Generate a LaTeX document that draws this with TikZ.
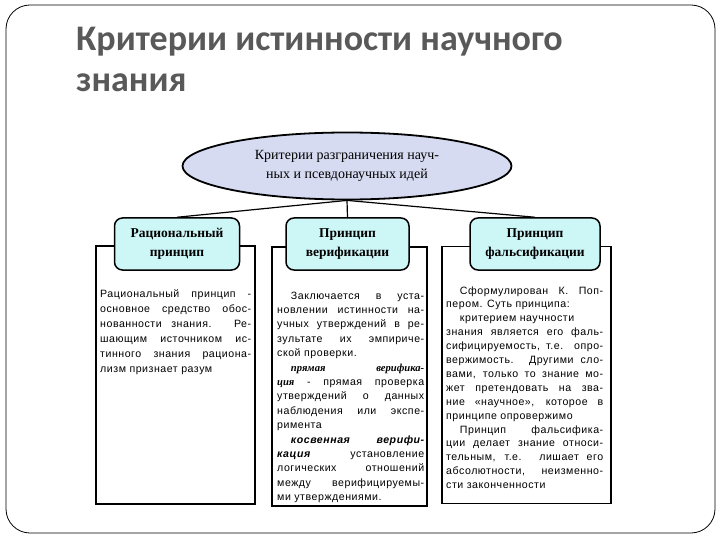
\documentclass[tikz,border=0pt]{standalone}
\usepackage{fontspec}
\setmainfont{Liberation Serif}
\setsansfont{Liberation Sans}
\newfontfamily\titlefont{Carlito}
\newfontfamily\bodyfont{Liberation Sans}[LetterSpace=5]
\usetikzlibrary{shapes.geometric}
\definecolor{titlegrey}{HTML}{595959}
\definecolor{ellfill}{HTML}{D6DBF1}
\definecolor{headfill}{HTML}{CDF6F7}
\tikzset{
  titletext/.style={anchor=base west, inner sep=0, text=titlegrey,
    font=\titlefont\bfseries\fontsize{36}{42}\selectfont},
  critell/.style={ellipse, draw, line width=1.8pt, fill=ellfill, inner sep=0,
    minimum width=329pt, minimum height=67pt, align=center,
    font=\rmfamily\fontsize{14}{19}\selectfont},
  headbox/.style={draw, line width=1.5pt, fill=headfill, rounded corners=8pt,
    minimum height=52pt, align=center, inner sep=0,
    font=\rmfamily\bfseries\fontsize{13.5}{19}\selectfont},
  bodybox/.style={draw, line width=1.8pt, inner sep=0},
  bodytext/.style={anchor=base west, inner sep=0, align=justify,
    font=\bodyfont\fontsize{10.6}{15}\selectfont},
  conn/.style={line width=1.2pt},
}
\newcommand{\ind}{\hspace*{1.3em}}
\newcommand{\bi}[1]{{\rmfamily\bfseries\itshape #1}}
\newcommand{\bsi}[1]{{\bodyfont\bfseries\itshape #1}}
\newcommand{\jst}{\rightskip=0pt\relax\parfillskip=0pt plus 1fil\relax\hfuzz=20pt\hbadness=10000\relax}
\begin{document}
\begin{tikzpicture}[x=1pt,y=-1pt]
\useasboundingbox (0,0) rectangle (720,540);
\draw[rounded corners=24pt, line width=0.8pt] (6,5) rectangle (715,533);

\node[titletext] (title1) at (76,51) {Критерии истинности научного};
\node[titletext] (title2) at (76,92) {знания};

% body boxes
\node[bodybox, minimum width=159pt, minimum height=258pt] (b1) at (175.5,375) {};
\node[bodybox, minimum width=155pt, minimum height=259pt] (b2) at (349.5,376.5) {};
\node[bodybox, minimum width=169pt, minimum height=257pt] (b3) at (526.5,375) {};

% headers
\node[headbox, minimum width=125pt] (h1) at (177,244) {Рациональный\\принцип};
\node[headbox, minimum width=123pt] (h2) at (347.5,244) {Принцип\\верификации};
\node[headbox, minimum width=130pt] (h3) at (535,244) {Принцип\\фальсификации};

% ellipse
\node[critell] (crit) at (347,166) {Критерии разграничения науч-\\ных и псевдонаучных идей};

\draw[conn] (crit.south) -- (h1.north);
\draw[conn] (crit.south) -- (h2.north);
\draw[conn] (crit.south) -- (h3.north);

% texts
\node[bodytext, text width=151pt] (t1) at (100,297) {\jst
Рациональный принцип -\linebreak
основное средство обос-\linebreak
нованности знания. Ре-\linebreak
шающим источником ис-\linebreak
тинного знания рациона-\linebreak
лизм признает разум\par};

\node[bodytext, text width=147pt, font=\bodyfont\fontsize{10.6}{14.4}\selectfont] (t2) at (277,299) {\jst
\ind Заключается в уста-\linebreak
новлении истинности на-\linebreak
учных утверждений в ре-\linebreak
зультате их эмпириче-\linebreak
ской проверки.\par
\ind\bi{прямая верифика-}\linebreak
\bi{ция} - прямая проверка\linebreak
утверждений о данных\linebreak
наблюдения или экспе-\linebreak
римента\par
\ind\bsi{косвенная верифи-}\linebreak
\bsi{кация} установление\linebreak
логических отношений\linebreak
между верифицируемы-\linebreak
ми утверждениями.\par};

\node[bodytext, text width=157pt, font=\bodyfont\fontsize{10.6}{13.9}\selectfont] (t3) at (446,294) {\jst
\ind Сформулирован К. Поп-\linebreak
пером. Суть принципа:\par
\ind критерием научности\hfill\break
знания является его фаль-\linebreak
сифицируемость, т.е. опро-\linebreak
вержимость. Другими сло-\linebreak
вами, только то знание мо-\linebreak
жет претендовать на зва-\linebreak
ние «научное», которое в\linebreak
принципе опровержимо\par
\ind Принцип фальсифика-\linebreak
ции делает знание относи-\linebreak
тельным, т.е. лишает его\linebreak
абсолютности, неизменно-\linebreak
сти законченности\par};
\end{tikzpicture}
\end{document}
